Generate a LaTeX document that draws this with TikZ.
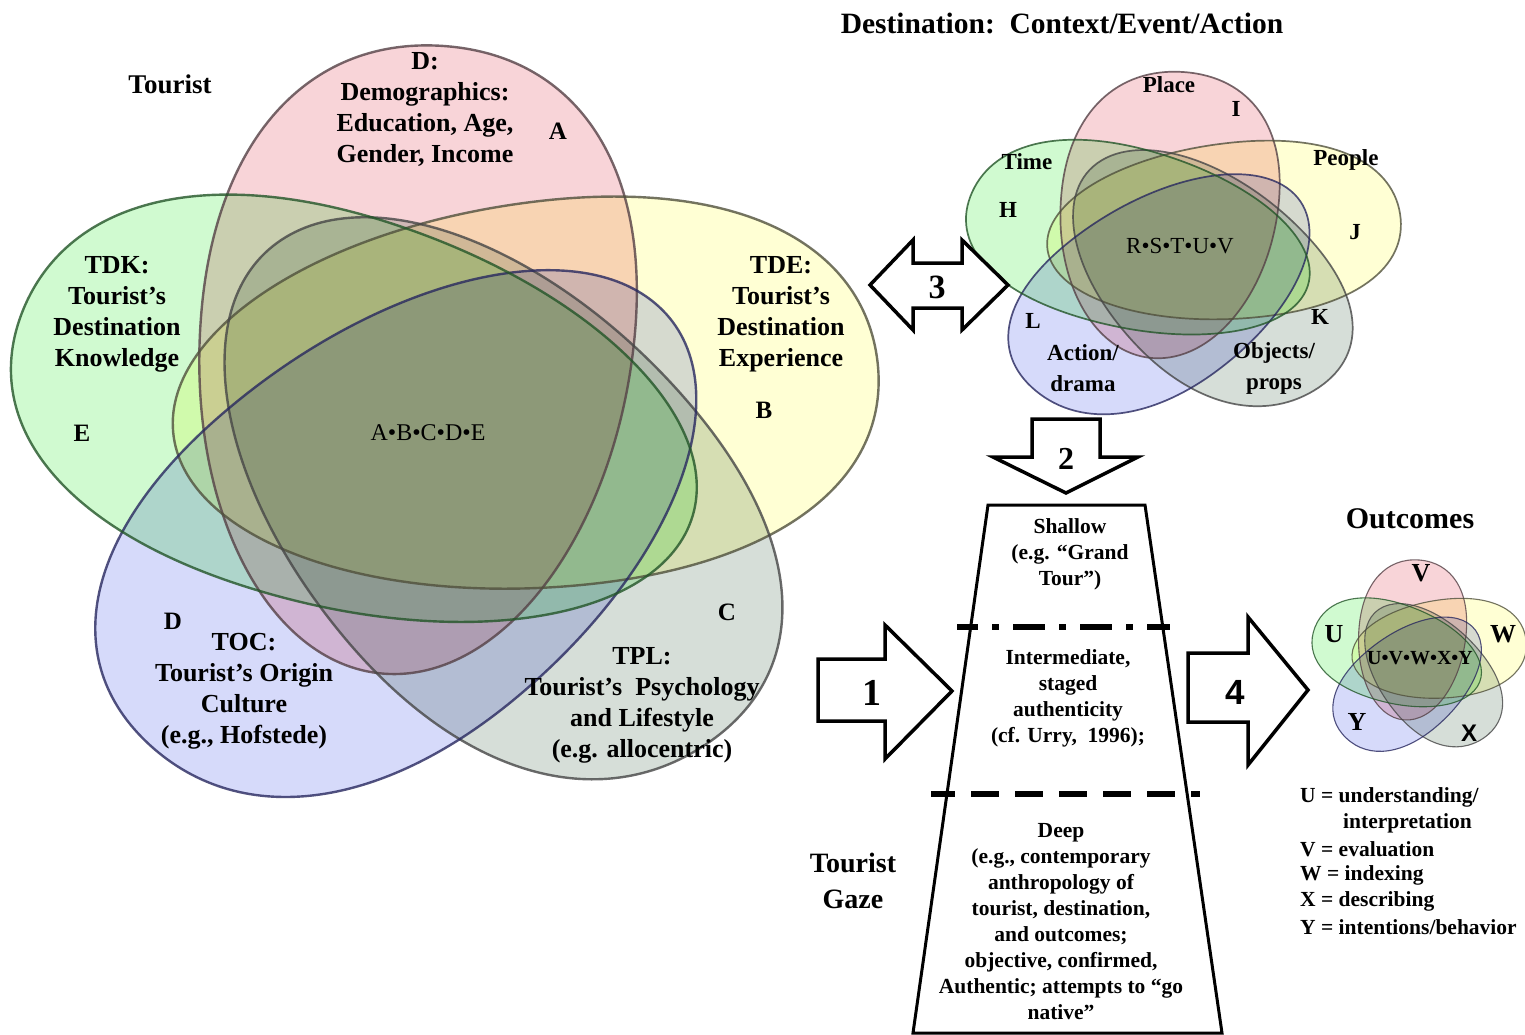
\documentclass[tikz,border=0pt]{standalone}
\usepackage{fontspec}
\setmainfont{Liberation Serif}
\newfontfamily\sansf{Liberation Sans}
\definecolor{vred}{RGB}{248,212,216}
\definecolor{vyel}{RGB}{255,255,212}
\definecolor{vgre}{RGB}{208,250,208}
\definecolor{vblu}{RGB}{214,218,250}
\definecolor{vgry}{RGB}{214,222,216}
\definecolor{lred}{RGB}{85,65,70}
\definecolor{lyel}{RGB}{80,80,60}
\definecolor{lgre}{RGB}{35,85,40}
\definecolor{lblu}{RGB}{40,40,95}
\definecolor{lgry}{RGB}{70,70,70}
% egg: blunt far half (0.86), elliptic near half (1.10), half width 0.60
\newcommand\eggpath{(0,-0.6) .. controls (0.53,-0.6) and (0.86,-0.37) .. (0.86,0) .. controls (0.86,0.37) and (0.53,0.6) .. (0,0.6) arc[start angle=90, end angle=270, x radius=1.10, y radius=0.6] -- cycle}
\newcommand\fivevenn[5]{%
\begin{scope}[shift={(#1,#2)}, xscale=#3, yscale=-#4]
 \foreach \cc/\ex/\ey/\ea in {vred/-0.088/0.375/85, vyel/0.327/0.155/7.3, vgry/0.191/-0.253/-53.3, vblu/-0.213/-0.344/-135.9, vgre/-0.372/0.118/160}{
   \fill[\cc, blend mode=multiply, shift={(\ex,\ey)}, rotate=-\ea] \eggpath;
 }
 \foreach \cc/\ex/\ey/\ea in {lred/-0.088/0.375/85, lyel/0.327/0.155/7.3, lgry/0.191/-0.253/-53.3, lblu/-0.213/-0.344/-135.9, lgre/-0.372/0.118/160}{
   \draw[\cc, line width=#5, draw opacity=0.8, shift={(\ex,\ey)}, rotate=-\ea] \eggpath;
 }
\end{scope}}
\tikzset{
  big/.style={font=\fontsize{26}{31}\selectfont\bfseries, align=center, inner sep=0pt},
  let/.style={font=\fontsize{25}{30}\selectfont\bfseries, inner sep=0pt},
  dlab/.style={font=\fontsize{23}{31}\selectfont\bfseries, align=center, inner sep=0pt},
  trap/.style={font=\fontsize{21.5}{26}\selectfont\bfseries, align=center, inner sep=0pt},
  leg/.style={font=\fontsize{21.5}{26}\selectfont\bfseries, anchor=west, inner sep=0pt},
  blockarrow/.style={draw=black, fill=white, line width=3.5pt, line join=miter},
  num/.style={font=\fontsize{38}{40}\selectfont\bfseries, inner sep=0pt}
}
\begin{document}
\begin{tikzpicture}[x=1pt, y=-1pt]
\useasboundingbox (0,0) rectangle (1525,1035);
\fill[white] (0,0) rectangle (1525,1035);

% Venn diagrams
\fivevenn{450.1}{442}{361.7}{321.4}{2.4pt}
\fivevenn{1186.1}{252.5}{181.3}{146.5}{1.7pt}
\fivevenn{1420.5}{660.9}{89.4}{81.9}{1.1pt}

% Tourist Venn labels
\node[font=\fontsize{27}{31}\selectfont\bfseries, inner sep=0pt] (tourist) at (170,84) {Tourist};
\node[big] (dem) at (425,110) {D:\\Demographics:\\Education, Age,\\Gender, Income};
\node[let] (la) at (558,131) {A};
\node[big] (tdk) at (117,314) {TDK:\\Tourist’s\\Destination\\Knowledge};
\node[let] (le) at (82,433) {E};
\node[big] (tde) at (781,314) {TDE:\\Tourist’s\\Destination\\Experience};
\node[let] (lb) at (764,410) {B};
\node[font=\fontsize{24}{28}\selectfont, inner sep=0pt] (abcde) at (428,433) {A•B•C•D•E};
\node[let] (ld) at (173,621) {D};
\node[big] (toc) at (244,691) {TOC:\\Tourist’s Origin\\Culture\\(e.g., Hofstede)};
\node[let] (lc) at (727,612) {C};
\node[big] (tpl) at (642,705) {TPL:\\Tourist’s~~Psychology\\and Lifestyle\\(e.g. allocentric)};

% Destination
\node[font=\fontsize{29.5}{31}\selectfont\bfseries, inner sep=0pt] (dtitle) at (1062,23) {Destination:~~Context/Event/Action};
\node[dlab] (place) at (1169,85) {Place};
\node[dlab] (li) at (1236,109) {I};
\node[dlab] (time) at (1027,162) {Time};
\node[dlab] (lh) at (1008,210) {H};
\node[dlab] (people) at (1346,160) {People};
\node[dlab] (lj) at (1355,232) {J};
\node[font=\fontsize{23}{28}\selectfont, inner sep=0pt] (rstuv) at (1180,246) {R•S•T•U•V};
\node[dlab] (ll) at (1033,321) {L};
\node[dlab] (lk) at (1320,317) {K};
\node[dlab] (action) at (1083,368) {Action/\\drama};
\node[dlab] (objects) at (1274,368) {Objects/\\props};

% Outcomes
\node[font=\fontsize{30}{31}\selectfont\bfseries, inner sep=0pt] (outc) at (1410,519) {Outcomes};
\node[font=\fontsize{26}{30}\selectfont\bfseries, inner sep=0pt] (lv) at (1421,573) {V};
\node[font=\fontsize{26}{30}\selectfont\bfseries, inner sep=0pt] (lu) at (1334,634) {U};
\node[font=\fontsize{26}{30}\selectfont\bfseries, inner sep=0pt] (lw) at (1503,634) {W};
\node[font=\fontsize{20}{24}\selectfont\bfseries, inner sep=0pt] (uvwxy) at (1420,658) {U•V•W•X•Y};
\node[font=\fontsize{26}{30}\selectfont\bfseries, inner sep=0pt] (ly) at (1357,722) {Y};
\node[font=\sansf\fontsize{24}{30}\selectfont\bfseries, inner sep=0pt] (lx) at (1469,733) {X};

\node[leg] (g1) at (1300,797) {U = understanding/};
\node[leg] (g2) at (1343,823) {interpretation};
\node[leg] (g3) at (1300,849) {V = evaluation};
\node[leg] (g4) at (1300,875) {W = indexing};
\node[leg] (g5) at (1300,901) {X = describing};
\node[leg] (g6) at (1300,927) {Y = intentions/behavior};

% Trapezoid (tourist gaze)
\draw[line width=3pt, fill=white, line join=miter] (988,505) -- (1145,505) -- (1222,1033) -- (913,1033) -- cycle;
\draw[line width=6.5pt, dash pattern=on 32pt off 14pt on 7pt off 14pt, dash phase=11pt] (957,627) -- (1170,627);
\draw[line width=6.5pt, dash pattern=on 28pt off 16pt, dash phase=4pt] (931,794) -- (1200,794);
\node[trap] (shallow) at (1070,554) {Shallow\\(e.g. “Grand\\Tour”)};
\node[trap] (inter) at (1068,698) {Intermediate,\\staged\\authenticity\\(cf. Urry,~~1996);};
\node[trap] (deep) at (1061,922) {Deep\\(e.g., contemporary\\anthropology of\\tourist, destination,\\and outcomes;\\objective, confirmed,\\Authentic; attempts to “go\\native”};
\node[font=\fontsize{28}{36}\selectfont\bfseries, align=center, inner sep=0pt] (gaze) at (853,881) {Tourist\\Gaze};

% Block arrows
\draw[blockarrow] (870,285) -- (913,240) -- (913,263) -- (962,263) -- (962,240) -- (1008,285) -- (962,330) -- (962,308) -- (913,308) -- (913,330) -- cycle;
\node[num, font=\fontsize{34}{36}\selectfont\bfseries] (n3) at (937,287) {3};
\draw[blockarrow] (1032,419) -- (1100,419) -- (1100,457) -- (1138,457) -- (1066,493) -- (993,457) -- (1032,457) -- cycle;
\node[num, font=\fontsize{32}{36}\selectfont\bfseries] (n2) at (1066,459) {2};
\draw[blockarrow] (818,659) -- (885,659) -- (885,625) -- (952,691) -- (885,759) -- (885,721) -- (818,721) -- cycle;
\node[num] (n1) at (872,693) {1};
\draw[blockarrow] (1188,653) -- (1248,653) -- (1248,617) -- (1308,690) -- (1248,765) -- (1248,722) -- (1188,722) -- cycle;
\node[num, font=\sansf\fontsize{35}{36}\selectfont\bfseries] (n4) at (1235,692) {4};
\end{tikzpicture}
\end{document}
